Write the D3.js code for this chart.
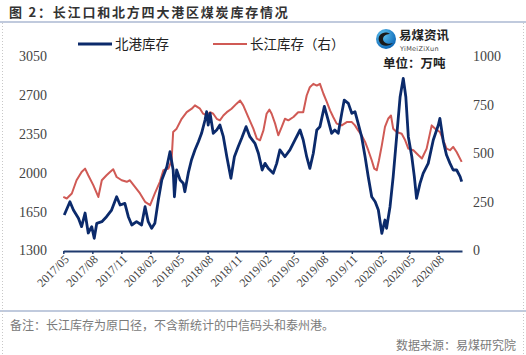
<!DOCTYPE html>
<html>
<head>
<meta charset="utf-8">
<script src="https://cdn.jsdelivr.net/npm/d3@7"></script>
<style>
  html, body { margin: 0; padding: 0; background: #fff; }
  svg { display: block; }
</style>
</head>
<body>
<svg id="chart" width="526" height="355"></svg>
<script>
// ---- Data ----
const blueDates = ["2017-05-04","2017-05-22","2017-06-02","2017-06-18","2017-06-28","2017-07-09","2017-07-19","2017-07-30","2017-08-07","2017-08-15","2017-08-31","2017-09-15","2017-10-01","2017-10-17","2017-10-28","2017-11-12","2017-11-23","2017-12-04","2017-12-19","2018-01-04","2018-01-15","2018-01-25","2018-02-05","2018-02-15","2018-02-26","2018-03-09","2018-03-25","2018-04-04","2018-04-14","2018-04-18","2018-04-25","2018-05-06","2018-05-16","2018-05-21","2018-06-01","2018-06-11","2018-06-22","2018-07-03","2018-07-13","2018-07-24","2018-07-29","2018-08-03","2018-08-09","2018-08-19","2018-08-30","2018-09-09","2018-09-20","2018-10-01","2018-10-14","2018-10-25","2018-11-06","2018-11-17","2018-12-01","2018-12-13","2018-12-29","2019-01-09","2019-01-21","2019-01-30","2019-02-09","2019-02-25","2019-03-08","2019-03-18","2019-04-03","2019-04-19","2019-05-05","2019-05-21","2019-05-31","2019-06-11","2019-06-21","2019-07-02","2019-07-13","2019-07-23","2019-08-06","2019-08-18","2019-08-29","2019-09-08","2019-09-19","2019-09-30","2019-10-08","2019-10-21","2019-11-01","2019-11-11","2019-11-21","2019-12-02","2019-12-13","2019-12-23","2020-01-03","2020-01-14","2020-01-24","2020-02-04","2020-02-14","2020-02-19","2020-03-01","2020-03-11","2020-03-22","2020-04-02","2020-04-12","2020-04-20","2020-04-28","2020-05-09","2020-05-17","2020-05-24","2020-06-04","2020-06-14","2020-06-30","2020-07-16","2020-08-01","2020-08-06","2020-08-17","2020-08-27","2020-09-07","2020-09-17","2020-09-28","2020-10-09","2020-10-14"];
const blueValues = [1620,1740,1665,1590,1515,1638,1458,1515,1410,1545,1560,1605,1665,1785,1710,1725,1605,1530,1560,1530,1695,1560,1500,1545,1755,1936,2056,2191,2026,1785,2026,1936,1906,1830,2000,2116,2207,2281,2357,2477,2552,2432,2537,2357,2387,2432,2327,2146,1951,2146,2236,2312,2417,2327,2267,2177,2026,2086,2041,1996,2086,2207,2146,2207,2297,2387,2297,2146,2041,2177,2387,2417,2600,2477,2357,2387,2357,2537,2657,2627,2537,2552,2447,2327,2146,1966,1785,1740,1665,1455,1575,1500,1695,1966,2327,2687,2853,2687,2327,2146,1966,1770,1906,1996,2086,2297,2432,2492,2281,2161,2086,2026,2026,1966,1921];

const redDates = ["2017-05-01","2017-05-12","2017-05-28","2017-06-12","2017-06-28","2017-07-09","2017-07-19","2017-08-04","2017-08-20","2017-08-31","2017-09-15","2017-09-26","2017-10-06","2017-10-17","2017-11-02","2017-11-18","2017-11-28","2017-12-14","2017-12-30","2018-01-15","2018-01-31","2018-02-15","2018-03-03","2018-03-14","2018-03-30","2018-04-09","2018-04-14","2018-04-25","2018-05-11","2018-05-27","2018-06-12","2018-06-22","2018-07-08","2018-07-18","2018-07-29","2018-08-09","2018-08-19","2018-08-30","2018-09-09","2018-09-20","2018-10-01","2018-10-16","2018-11-01","2018-11-12","2018-11-22","2018-12-08","2018-12-24","2019-01-04","2019-01-14","2019-01-25","2019-02-04","2019-02-13","2019-02-20","2019-03-03","2019-03-13","2019-03-24","2019-04-03","2019-04-14","2019-04-30","2019-05-15","2019-05-31","2019-06-11","2019-06-21","2019-07-02","2019-07-13","2019-07-23","2019-08-03","2019-08-14","2019-08-24","2019-09-03","2019-09-14","2019-09-30","2019-10-16","2019-11-01","2019-11-11","2019-11-21","2019-12-02","2019-12-13","2019-12-23","2020-01-03","2020-01-11","2020-01-19","2020-01-26","2020-02-04","2020-02-14","2020-02-24","2020-03-04","2020-03-11","2020-03-22","2020-04-07","2020-04-18","2020-04-28","2020-05-14","2020-05-30","2020-06-10","2020-06-25","2020-07-11","2020-07-22","2020-08-06","2020-08-17","2020-08-27","2020-09-07","2020-09-17","2020-09-28","2020-10-14"];
const redValues = [276,268,294,362,405,422,388,337,276,362,388,405,419,379,362,354,362,328,294,251,234,294,354,414,422,465,611,628,679,713,731,748,731,705,696,713,705,679,671,696,713,731,757,773,748,688,628,577,568,619,705,726,705,654,594,637,679,671,688,713,713,799,842,859,850,859,808,765,722,688,654,645,662,662,645,619,594,560,517,465,422,414,465,542,637,679,696,628,611,602,568,525,517,491,474,525,645,628,611,568,525,517,534,508,457];

const xTickLabels = ["2017/05","2017/08","2017/11","2018/02","2018/05","2018/08","2018/11","2019/02","2019/05","2019/08","2019/11","2020/02","2020/05","2020/08"];
const leftTicks = [1300,1650,2000,2350,2700,3050];
const rightTicks = [0,250,500,750,1000];
const seriesNames = ["北港库存","长江库存（右）"];

// ---- Drawing ----
const svg = d3.select("#chart");
const parse = d3.timeParse("%Y-%m-%d");
const parseTick = d3.timeParse("%Y/%m");

const x = d3.scaleTime()
  .domain([parse("2017-05-01"), parse("2020-10-15")])
  .range([63.3, 462]);
const yL = d3.scaleLinear().domain([1300, 3050]).range([250.5, 56.5]);
const yR = d3.scaleLinear().domain([0, 1000]).range([250.5, 56.5]);

const blueColor = "#0b2a6b";
const redColor = "#d05a55";
const axisColor = "#1f3a6e";
const frameColor = "#8196bb";
const cjk = "'Noto Sans CJK SC', sans-serif";

// frame & title
svg.append("line").attr("x1", 0).attr("x2", 526).attr("y1", 22).attr("y2", 22)
  .attr("stroke", frameColor).attr("stroke-width", 1.2);
svg.append("line").attr("x1", 0).attr("x2", 526).attr("y1", 311).attr("y2", 311)
  .attr("stroke", frameColor).attr("stroke-width", 1.2);
[2.5, 523.5].forEach(px => {
  svg.append("line").attr("x1", px).attr("x2", px).attr("y1", 23).attr("y2", 355)
    .attr("stroke", "#c8c8c8").attr("stroke-width", 1).attr("stroke-dasharray", "1,2");
});
svg.append("text").attr("x", 9).attr("y", 17)
  .attr("font-family", cjk).attr("font-weight", "bold")
  .attr("font-size", 13).attr("letter-spacing", 1.8).attr("fill", "#333")
  .text("图 2：长江口和北方四大港区煤炭库存情况");

// footer
svg.append("text").attr("x", 10).attr("y", 330)
  .attr("font-family", cjk).attr("font-size", 12)
  .attr("fill", "#7a7a7a")
  .text("备注：长江库存为原口径，不含新统计的中信码头和泰州港。");
svg.append("text").attr("x", 516).attr("y", 350).attr("text-anchor", "end")
  .attr("font-family", cjk).attr("font-size", 12)
  .attr("fill", "#7a7a7a")
  .text("数据来源：易煤研究院");

// axes
const numFont = "'Liberation Serif', 'Times New Roman', serif";
const gL = svg.append("g").attr("transform", "translate(47,0)")
  .call(d3.axisLeft(yL).tickValues(leftTicks).tickSize(0).tickPadding(0).tickFormat(d3.format("d")));
gL.select(".domain").remove();
gL.selectAll("text").attr("font-family", numFont).attr("font-size", 14).attr("fill", "#444");

const gR = svg.append("g").attr("transform", "translate(473,0)")
  .call(d3.axisRight(yR).tickValues(rightTicks).tickSize(0).tickPadding(0).tickFormat(d3.format("d")));
gR.select(".domain").remove();
gR.selectAll("text").attr("font-family", numFont).attr("font-size", 14).attr("fill", "#444");

const gX = svg.append("g").attr("transform", "translate(0,251)")
  .call(d3.axisBottom(x).tickValues(xTickLabels.map(parseTick)).tickSize(3).tickSizeOuter(0)
    .tickFormat(d3.timeFormat("%Y/%m")));
gX.select(".domain").attr("stroke", axisColor).attr("stroke-width", 1.8);
gX.selectAll(".tick line").attr("stroke", axisColor).attr("stroke-width", 1.5);
gX.selectAll("text")
  .attr("font-family", numFont).attr("font-size", 12).attr("fill", "#444")
  .attr("text-anchor", "end").attr("dy", 0).attr("y", 0)
  .attr("transform", "translate(6,9) rotate(-45)");

// lines
const blueData = blueDates.map((d, i) => ({ d: parse(d), v: blueValues[i] }));
const redData = redDates.map((d, i) => ({ d: parse(d), v: redValues[i] }));

svg.append("path").datum(redData)
  .attr("fill", "none").attr("stroke", redColor).attr("stroke-width", 2)
  .attr("stroke-linejoin", "round")
  .attr("d", d3.line().x(p => x(p.d)).y(p => yR(p.v)));
svg.append("path").datum(blueData)
  .attr("fill", "none").attr("stroke", blueColor).attr("stroke-width", 2.8)
  .attr("stroke-linejoin", "round")
  .attr("d", d3.line().x(p => x(p.d)).y(p => yL(p.v)));

// legend
[[78, blueColor, 2.8, seriesNames[0]], [213, redColor, 2, seriesNames[1]]].forEach(([lx, c, w, t]) => {
  svg.append("line").attr("x1", lx).attr("x2", lx + 34).attr("y1", 44).attr("y2", 44)
    .attr("stroke", c).attr("stroke-width", w);
  svg.append("text").attr("x", lx + 37).attr("y", 49)
    .attr("font-family", cjk).attr("font-size", 13.5).attr("fill", "#222").text(t);
});

// logo
const defs = svg.append("defs");
const grad = defs.append("radialGradient").attr("id", "lg").attr("cx", "35%").attr("cy", "30%").attr("r", "75%");
grad.append("stop").attr("offset", "0%").attr("stop-color", "#5fc3f0");
grad.append("stop").attr("offset", "100%").attr("stop-color", "#0a64b4");
svg.append("circle").attr("cx", 386).attr("cy", 39).attr("r", 10).attr("fill", "url(#lg)");
svg.append("path").attr("d", "M390,34 C384,30 377,35 379,41 C381,47 389,47 393,43 C389,45 383,43 383,39 C383,35 388,34 390,34 Z")
  .attr("fill", "#1a1a1a");
svg.append("text").attr("x", 399).attr("y", 40)
  .attr("font-family", cjk).attr("font-weight", "bold").attr("font-size", 12.5).attr("fill", "#222")
  .text("易煤资讯");
svg.append("text").attr("x", 400).attr("y", 51)
  .attr("font-family", "'DejaVu Sans', sans-serif").attr("font-size", 6.5).attr("fill", "#444")
  .attr("letter-spacing", 0.3).text("YiMeiZiXun");
svg.append("text").attr("x", 383).attr("y", 68)
  .attr("font-family", cjk).attr("font-weight", "bold").attr("font-size", 12.5).attr("fill", "#222")
  .text("单位：万吨");
</script>
</body>
</html>
